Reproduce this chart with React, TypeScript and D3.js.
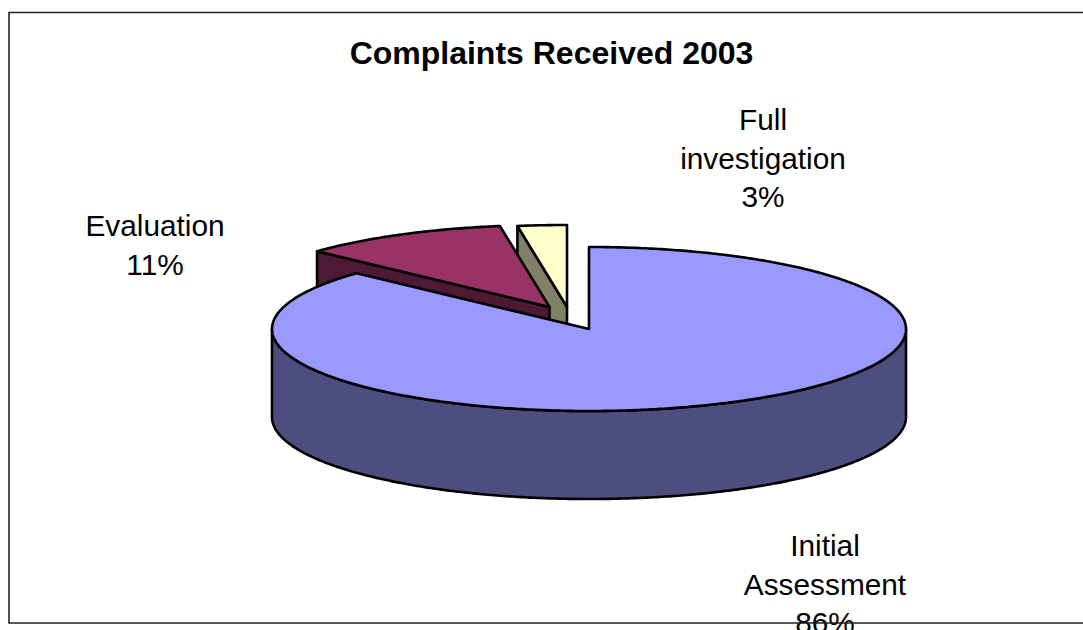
import React from 'react';
import * as d3 from 'd3';

const categories = ['Initial Assessment', 'Evaluation', 'Full investigation'];
const shares = [86.9, 10.6, 2.5];
const percentLabels = ['86%', '11%', '3%'];
const nameLines = [['Initial', 'Assessment'], ['Evaluation'], ['Full', 'investigation']];
const topColors = ['#9999ff', '#993366', '#ffffcc'];
const wallColors = ['#4d4d80', '#4d1933', '#808066'];

const W = 1083;
const H = 630;
const rx = 317;
const ry = 82;
const depth = 88;
// centre of each slice after the explode
const centers = [
  { x: 589, y: 329 },
  { x: 549.5, y: 307 },
  { x: 567, y: 307 },
];
const labelPos = [
  { x: 825, y: 556 },
  { x: 155, y: 236 },
  { x: 763, y: 130 },
];
const lineGap = 38.7;
const font = '"Liberation Sans", Arial, sans-serif';

const slices = d3.pie<number>().sort(null)(shares);

const pathLine = d3.line<[number, number]>().x(d => d[0]).y(d => d[1]);

// points along the tilted rim between two angles, clockwise from 12 o'clock
function rim(i: number, a0: number, a1: number, dy = 0): [number, number][] {
  const c = centers[i];
  const n = Math.max(2, Math.ceil(Math.abs(a1 - a0) / 0.01));
  return d3.range(n + 1).map(k => {
    const a = a0 + ((a1 - a0) * k) / n;
    return [c.x + rx * Math.sin(a), c.y - ry * Math.cos(a) + dy] as [number, number];
  });
}

function topPath(i: number) {
  const s = slices[i];
  const c: [number, number] = [centers[i].x, centers[i].y];
  return pathLine([c, ...rim(i, s.startAngle, s.endAngle)]) + 'Z';
}

// wall hanging under the slice's starting cut edge (back slices only)
function cutWall(i: number) {
  const s = slices[i];
  const c: [number, number] = [centers[i].x, centers[i].y];
  const [o] = rim(i, s.startAngle, s.startAngle + 0.01);
  return pathLine([c, o, [o[0], o[1] + depth], [c[0], c[1] + depth]]) + 'Z';
}

// outer wall of the big slice, front half of the rim
function frontWall() {
  const top = rim(0, Math.PI / 2, (3 * Math.PI) / 2);
  const bottom = rim(0, (3 * Math.PI) / 2, Math.PI / 2, depth);
  return pathLine([...top, ...bottom]) + 'Z';
}

export default function App() {
  return (
    <svg
      width={W}
      height={H}
      viewBox={`0 0 ${W} ${H}`}
      style={{ position: 'fixed', left: 0, top: 0, background: '#fff', fontFamily: font }}
    >
      <text x={551.5} y={64} textAnchor="middle" fontSize={32} fontWeight="bold" fill="#000">
        Complaints Received 2003
      </text>

      {/* back slices first, the big one covers their lower parts */}
      {[2, 1].map(i => (
        <g key={categories[i]} stroke="#000" strokeWidth={2.6} strokeLinejoin="round">
          <path d={cutWall(i)} fill={wallColors[i]} />
          <path d={topPath(i)} fill={topColors[i]} />
        </g>
      ))}
      <g stroke="#000" strokeWidth={2.6} strokeLinejoin="round">
        <path d={frontWall()} fill={wallColors[0]} />
        <path d={topPath(0)} fill={topColors[0]} />
      </g>

      {categories.map((name, i) => (
        <text key={name} textAnchor="middle" fontSize={29.8} fill="#000">
          {[...nameLines[i], percentLabels[i]].map((line, j) => (
            <tspan key={j} x={labelPos[i].x} y={labelPos[i].y + j * lineGap}>
              {line}
            </tspan>
          ))}
        </text>
      ))}

      <path d={`M${W},12.5H9V623H${W}`} fill="none" stroke="#222" strokeWidth={1.6} />
    </svg>
  );
}
